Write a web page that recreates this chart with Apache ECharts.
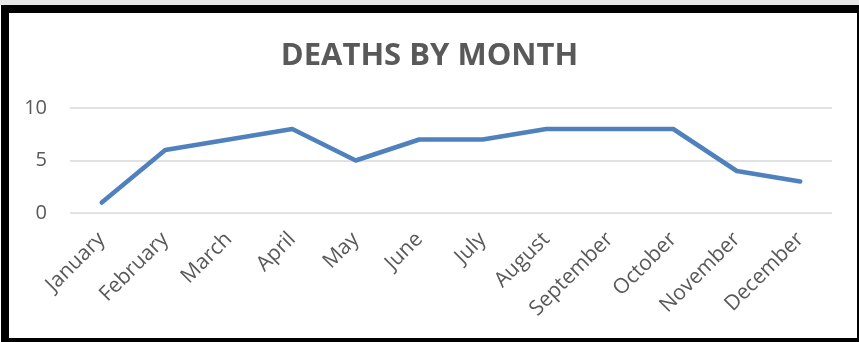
<!DOCTYPE html>
<html><head><meta charset="utf-8">
<script src="https://cdn.jsdelivr.net/npm/echarts@6/dist/echarts.min.js"></script>
<style>html,body{margin:0;padding:0;background:#fff;}#c{width:859px;height:342px;}</style>
</head><body><div id="c"></div>
<script>
const titleText = 'DEATHS BY MONTH';
const months = ['January','February','March','April','May','June','July','August','September','October','November','December'];
const deaths = [1,6,7,8,5,7,7,8,8,8,4,3];
const yTicks = [0,5,10];

const chart = echarts.init(document.getElementById('c'), null, {renderer:'canvas'});
chart.setOption({
  animation:false,
  backgroundColor:'#ffffff',
  title:{text:titleText,left:'center',top:36,textStyle:{fontFamily:'Open Sans',fontWeight:'bold',fontSize:31,color:'#595959'}},
  grid:{left:70,right:27,top:108,bottom:129,containLabel:false},
  xAxis:{type:'category',data:months,boundaryGap:true,
    axisLine:{show:false},axisTick:{show:false},
    axisLabel:{rotate:45,interval:0,margin:23,fontFamily:'Open Sans',fontSize:21,color:'#595959'}},
  yAxis:{type:'value',min:yTicks[0],max:yTicks[yTicks.length-1],interval:5,
    axisLine:{show:false},axisTick:{show:false},
    splitLine:{lineStyle:{color:'#d9d9d9',width:1.5}},
    axisLabel:{margin:23,fontFamily:'Open Sans',fontSize:20,color:'#595959'}},
  series:[{type:'line',data:deaths,symbol:'none',lineStyle:{color:'#4f81bd',width:4.5,join:'round',cap:'round'}}],
  graphic:[
    {type:'rect',shape:{x:0,y:0,width:859,height:5},style:{fill:'#e6e6e6'},silent:true},
    {type:'rect',shape:{x:1,y:5,width:858,height:8},style:{fill:'#000'},silent:true},
    {type:'rect',shape:{x:1,y:5,width:8,height:337},style:{fill:'#000'},silent:true},
    {type:'rect',shape:{x:857,y:5,width:2,height:337},style:{fill:'#000'},silent:true},
    {type:'rect',shape:{x:1,y:338,width:858,height:4},style:{fill:'#000'},silent:true}
  ]
});
</script></body></html>
